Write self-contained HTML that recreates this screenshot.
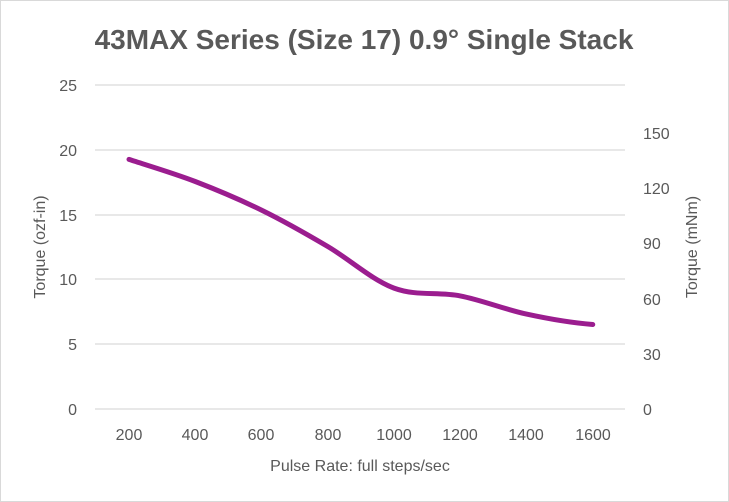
<!DOCTYPE html>
<html><head><style>
body{margin:0;background:#fff}
svg{display:block}
text{font-family:"Liberation Sans",sans-serif;fill:#595959}
</style></head><body>
<svg width="729" height="502" viewBox="0 0 729 502">
<rect x="0.5" y="0.5" width="728" height="501" fill="#fff" stroke="#d9d9d9"/>
<text x="364" y="49" text-anchor="middle" font-size="28" font-weight="bold">43MAX Series (Size 17) 0.9° Single Stack</text>
<g stroke="#d9d9d9" stroke-width="1.3">
<line x1="95" x2="625" y1="85" y2="85"/>
<line x1="95" x2="625" y1="150" y2="150"/>
<line x1="95" x2="625" y1="215" y2="215"/>
<line x1="95" x2="625" y1="279" y2="279"/>
<line x1="95" x2="625" y1="344" y2="344"/>
<line x1="95" x2="625" y1="409" y2="409"/>
</g>
<g font-size="16" text-anchor="end">
<text x="77" y="91">25</text><text x="77" y="156">20</text><text x="77" y="221">15</text>
<text x="77" y="285">10</text><text x="77" y="350">5</text><text x="77" y="415">0</text>
</g>
<g font-size="16" text-anchor="start">
<text x="643" y="139">150</text><text x="643" y="194">120</text><text x="643" y="249">90</text>
<text x="643" y="305">60</text><text x="643" y="360">30</text><text x="643" y="415">0</text>
</g>
<g font-size="16" text-anchor="middle">
<text x="129" y="440">200</text><text x="195" y="440">400</text><text x="261" y="440">600</text>
<text x="328" y="440">800</text><text x="394" y="440">1000</text><text x="460" y="440">1200</text>
<text x="526" y="440">1400</text><text x="593" y="440">1600</text>
</g>
<text x="360" y="471" font-size="16" text-anchor="middle">Pulse Rate:  full steps/sec</text>
<text transform="translate(45,247) rotate(-90)" font-size="16" text-anchor="middle">Torque (ozf-in)</text>
<text transform="translate(697,247) rotate(-90)" font-size="16" text-anchor="middle">Torque (mNm)</text>
<path d="M129,159.4 C140,163.1 173.2,173 195.25,181.5 C217.3,190 239.4,199.3 261.5,210.1 C283.6,220.9 305.7,233.5 327.75,246.5 C349.8,259.5 372,279.9 394,288.1 C416.1,296.3 438.2,291.6 460.25,295.9 C482.3,300.2 504.4,309.3 526.5,314.1 C548.6,318.9 570.7,322.8 592.75,324.5" fill="none" stroke="#9b1d8f" stroke-width="5" stroke-linecap="round"/>
</svg>
</body></html>
